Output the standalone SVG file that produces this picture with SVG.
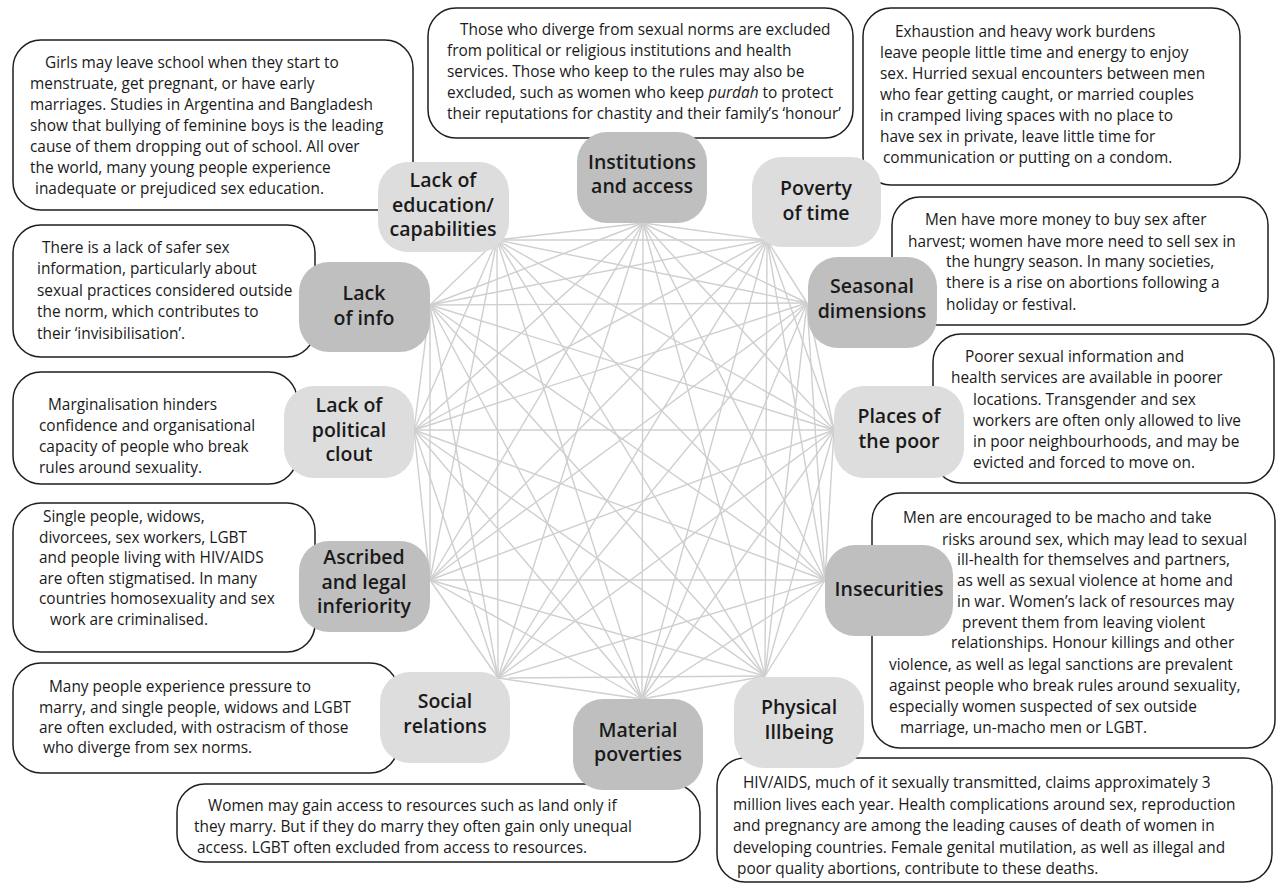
<svg xmlns="http://www.w3.org/2000/svg" width="1281" height="884" viewBox="0 0 1281 884">
<style>
.box{fill:#fff;stroke:#1e1e1e;stroke-width:1.5}
.nd{fill:#bfbfbf}
.nl{fill:#dddddd}
.lbl{font-family:"Open Sans","Liberation Sans",sans-serif;font-weight:600;font-size:19.5px;fill:#1a1a1a;text-anchor:middle}
.t{font-family:"Open Sans","Liberation Sans",sans-serif;font-size:15.4px;fill:#1a1a1a}
#connectors line{stroke:#cfcfcf;stroke-width:1.4}
</style>
<rect width="1281" height="884" fill="#fff"/>

<g id="note-education">
<rect class="box" x="13" y="40" width="400" height="170" rx="28"/>
<text class="t"><tspan x="45" y="68">Girls may leave school when they start to</tspan><tspan x="30" y="89">menstruate, get pregnant, or have early</tspan><tspan x="30" y="110">marriages. Studies in Argentina and Bangladesh</tspan><tspan x="30" y="131">show that bullying of feminine boys is the leading</tspan><tspan x="30" y="152">cause of them dropping out of school. All over</tspan><tspan x="30" y="173">the world, many young people experience</tspan><tspan x="35" y="194">inadequate or prejudiced sex education.</tspan></text>
</g>
<g id="note-institutions">
<rect class="box" x="428" y="8" width="425" height="130" rx="28"/>
<text class="t"><tspan x="460" y="35">Those who diverge from sexual norms are excluded</tspan><tspan x="447" y="56">from political or religious institutions and health</tspan><tspan x="447" y="77">services. Those who keep to the rules may also be</tspan><tspan x="447" y="98">excluded, such as women who keep <tspan font-style="italic">purdah</tspan> to protect</tspan><tspan x="447" y="119">their reputations for chastity and their family’s ‘honour’</tspan></text>
</g>
<g id="note-time">
<rect class="box" x="863" y="8" width="377" height="177" rx="28"/>
<text class="t"><tspan x="895" y="37">Exhaustion and heavy work burdens</tspan><tspan x="880" y="58">leave people little time and energy to enjoy</tspan><tspan x="880" y="79">sex. Hurried sexual encounters between men</tspan><tspan x="880" y="100">who fear getting caught, or married couples</tspan><tspan x="880" y="121">in cramped living spaces with no place to</tspan><tspan x="880" y="142">have sex in private, leave little time for</tspan><tspan x="883" y="163">communication or putting on a condom.</tspan></text>
</g>
<g id="note-info">
<rect class="box" x="13" y="225" width="302" height="132" rx="28"/>
<text class="t"><tspan x="42" y="253">There is a lack of safer sex</tspan><tspan x="37" y="274">information, particularly about</tspan><tspan x="37" y="296">sexual practices considered outside</tspan><tspan x="37" y="317">the norm, which contributes to</tspan><tspan x="37" y="339">their ‘invisibilisation’.</tspan></text>
</g>
<g id="note-seasonal">
<rect class="box" x="892" y="197" width="376" height="128" rx="28"/>
<text class="t"><tspan x="925" y="225">Men have more money to buy sex after</tspan><tspan x="908" y="247">harvest; women have more need to sell sex in</tspan><tspan x="946" y="267">the hungry season. In many societies,</tspan><tspan x="946" y="288">there is a rise on abortions following a</tspan><tspan x="946" y="310">holiday or festival.</tspan></text>
</g>
<g id="note-clout">
<rect class="box" x="13" y="372" width="284" height="112" rx="28"/>
<text class="t"><tspan x="48" y="410">Marginalisation hinders</tspan><tspan x="39" y="431">confidence and organisational</tspan><tspan x="39" y="452">capacity of people who break</tspan><tspan x="39" y="473">rules around sexuality.</tspan></text>
</g>
<g id="note-places">
<rect class="box" x="933" y="334" width="341" height="149" rx="28"/>
<text class="t"><tspan x="965" y="362">Poorer sexual information and</tspan><tspan x="951" y="383">health services are available in poorer</tspan><tspan x="973" y="405">locations. Transgender and sex</tspan><tspan x="973" y="426">workers are often only allowed to live</tspan><tspan x="973" y="447">in poor neighbourhoods, and may be</tspan><tspan x="973" y="468">evicted and forced to move on.</tspan></text>
</g>
<g id="note-ascribed">
<rect class="box" x="13" y="503" width="302" height="149" rx="28"/>
<text class="t"><tspan x="43" y="522">Single people, widows,</tspan><tspan x="39" y="543">divorcees, sex workers, LGBT</tspan><tspan x="39" y="563">and people living with HIV/AIDS</tspan><tspan x="39" y="584">are often stigmatised. In many</tspan><tspan x="39" y="604">countries homosexuality and sex</tspan><tspan x="50" y="625">work are criminalised.</tspan></text>
</g>
<g id="note-insecurities">
<rect class="box" x="872" y="493" width="403" height="255" rx="28"/>
<text class="t"><tspan x="903" y="523">Men are encouraged to be macho and take</tspan><tspan x="942" y="545">risks around sex, which may lead to sexual</tspan><tspan x="957" y="565">ill-health for themselves and partners,</tspan><tspan x="957" y="586">as well as sexual violence at home and</tspan><tspan x="957" y="607">in war. Women’s lack of resources may</tspan><tspan x="962" y="628">prevent them from leaving violent</tspan><tspan x="951" y="648">relationships. Honour killings and other</tspan><tspan x="889" y="670">violence, as well as legal sanctions are prevalent</tspan><tspan x="889" y="691">against people who break rules around sexuality,</tspan><tspan x="889" y="712">especially women suspected of sex outside</tspan><tspan x="900" y="733">marriage, un-macho men or LGBT.</tspan></text>
</g>
<g id="note-social">
<rect class="box" x="13" y="663" width="385" height="110" rx="28"/>
<text class="t"><tspan x="49" y="692">Many people experience pressure to</tspan><tspan x="39" y="713">marry, and single people, widows and LGBT</tspan><tspan x="39" y="733">are often excluded, with ostracism of those</tspan><tspan x="43" y="753">who diverge from sex norms.</tspan></text>
</g>
<g id="note-material">
<rect class="box" x="177" y="784" width="523" height="78" rx="28"/>
<text class="t"><tspan x="208" y="811">Women may gain access to resources such as land only if</tspan><tspan x="194" y="832">they marry. But if they do marry they often gain only unequal</tspan><tspan x="197" y="853">access. LGBT often excluded from access to resources.</tspan></text>
</g>
<g id="note-physical">
<rect class="box" x="717" y="758" width="555" height="124" rx="28"/>
<text class="t"><tspan x="743" y="788">HIV/AIDS, much of it sexually transmitted, claims approximately 3</tspan><tspan x="733" y="810">million lives each year. Health complications around sex, reproduction</tspan><tspan x="733" y="831">and pregnancy are among the leading causes of death of women in</tspan><tspan x="733" y="853">developing countries. Female genital mutilation, as well as illegal and</tspan><tspan x="737" y="874">poor quality abortions, contribute to these deaths.</tspan></text>
</g>

<g id="connectors">
<line x1="643" y1="223" x2="767" y2="240"/><line x1="643" y1="223" x2="807" y2="303"/><line x1="643" y1="223" x2="834" y2="430"/><line x1="643" y1="223" x2="825" y2="580"/><line x1="643" y1="223" x2="765" y2="676"/><line x1="643" y1="223" x2="642" y2="699"/><line x1="643" y1="223" x2="498" y2="678"/><line x1="643" y1="223" x2="430" y2="580"/><line x1="643" y1="223" x2="414" y2="430"/><line x1="643" y1="223" x2="430" y2="305"/><line x1="643" y1="223" x2="497" y2="240"/>
<line x1="767" y1="240" x2="807" y2="303"/><line x1="767" y1="240" x2="834" y2="430"/><line x1="767" y1="240" x2="825" y2="580"/><line x1="767" y1="240" x2="765" y2="676"/><line x1="767" y1="240" x2="642" y2="699"/><line x1="767" y1="240" x2="498" y2="678"/><line x1="767" y1="240" x2="430" y2="580"/><line x1="767" y1="240" x2="414" y2="430"/><line x1="767" y1="240" x2="430" y2="305"/><line x1="767" y1="240" x2="497" y2="240"/>
<line x1="807" y1="303" x2="834" y2="430"/><line x1="807" y1="303" x2="825" y2="580"/><line x1="807" y1="303" x2="765" y2="676"/><line x1="807" y1="303" x2="642" y2="699"/><line x1="807" y1="303" x2="498" y2="678"/><line x1="807" y1="303" x2="430" y2="580"/><line x1="807" y1="303" x2="414" y2="430"/><line x1="807" y1="303" x2="430" y2="305"/><line x1="807" y1="303" x2="497" y2="240"/>
<line x1="834" y1="430" x2="825" y2="580"/><line x1="834" y1="430" x2="765" y2="676"/><line x1="834" y1="430" x2="642" y2="699"/><line x1="834" y1="430" x2="498" y2="678"/><line x1="834" y1="430" x2="430" y2="580"/><line x1="834" y1="430" x2="414" y2="430"/><line x1="834" y1="430" x2="430" y2="305"/><line x1="834" y1="430" x2="497" y2="240"/>
<line x1="825" y1="580" x2="765" y2="676"/><line x1="825" y1="580" x2="642" y2="699"/><line x1="825" y1="580" x2="498" y2="678"/><line x1="825" y1="580" x2="430" y2="580"/><line x1="825" y1="580" x2="414" y2="430"/><line x1="825" y1="580" x2="430" y2="305"/><line x1="825" y1="580" x2="497" y2="240"/>
<line x1="765" y1="676" x2="642" y2="699"/><line x1="765" y1="676" x2="498" y2="678"/><line x1="765" y1="676" x2="430" y2="580"/><line x1="765" y1="676" x2="414" y2="430"/><line x1="765" y1="676" x2="430" y2="305"/><line x1="765" y1="676" x2="497" y2="240"/>
<line x1="642" y1="699" x2="498" y2="678"/><line x1="642" y1="699" x2="430" y2="580"/><line x1="642" y1="699" x2="414" y2="430"/><line x1="642" y1="699" x2="430" y2="305"/><line x1="642" y1="699" x2="497" y2="240"/>
<line x1="498" y1="678" x2="430" y2="580"/><line x1="498" y1="678" x2="414" y2="430"/><line x1="498" y1="678" x2="430" y2="305"/><line x1="498" y1="678" x2="497" y2="240"/>
<line x1="430" y1="580" x2="414" y2="430"/><line x1="430" y1="580" x2="430" y2="305"/><line x1="430" y1="580" x2="497" y2="240"/>
<line x1="414" y1="430" x2="430" y2="305"/><line x1="414" y1="430" x2="497" y2="240"/>
<line x1="430" y1="305" x2="497" y2="240"/>
</g>

<g id="node-institutions"><rect class="nd" x="577" y="132" width="130" height="91" rx="30"/><text class="lbl"><tspan x="642" y="169">Institutions</tspan><tspan x="642" y="193">and access</tspan></text></g>
<g id="node-education"><rect class="nl" x="378" y="162" width="131" height="90" rx="30"/><text class="lbl"><tspan x="443" y="187">Lack of</tspan><tspan x="443" y="212">education/</tspan><tspan x="443" y="236">capabilities</tspan></text></g>
<g id="node-time"><rect class="nl" x="752" y="157" width="129" height="90" rx="30"/><text class="lbl"><tspan x="816" y="195">Poverty</tspan><tspan x="816" y="220">of time</tspan></text></g>
<g id="node-info"><rect class="nd" x="299" y="262" width="131" height="90" rx="30"/><text class="lbl"><tspan x="364" y="300">Lack</tspan><tspan x="364" y="325">of info</tspan></text></g>
<g id="node-seasonal"><rect class="nd" x="808" y="257" width="129" height="91" rx="30"/><text class="lbl"><tspan x="872" y="293">Seasonal</tspan><tspan x="872" y="318">dimensions</tspan></text></g>
<g id="node-clout"><rect class="nl" x="284" y="386" width="130" height="92" rx="30"/><text class="lbl"><tspan x="349" y="412">Lack of</tspan><tspan x="349" y="437">political</tspan><tspan x="349" y="461">clout</tspan></text></g>
<g id="node-places"><rect class="nl" x="834" y="386" width="130" height="92" rx="30"/><text class="lbl"><tspan x="899" y="423">Places of</tspan><tspan x="899" y="448">the poor</tspan></text></g>
<g id="node-ascribed"><rect class="nd" x="299" y="541" width="131" height="91" rx="30"/><text class="lbl"><tspan x="364" y="564">Ascribed</tspan><tspan x="364" y="589">and legal</tspan><tspan x="364" y="613">inferiority</tspan></text></g>
<g id="node-insecurities"><rect class="nd" x="825" y="545" width="128" height="91" rx="30"/><text class="lbl"><tspan x="889" y="596">Insecurities</tspan></text></g>
<g id="node-social"><rect class="nl" x="380" y="672" width="130" height="91" rx="30"/><text class="lbl"><tspan x="445" y="708">Social</tspan><tspan x="445" y="733">relations</tspan></text></g>
<g id="node-material"><rect class="nd" x="573" y="699" width="130" height="91" rx="30"/><text class="lbl"><tspan x="638" y="737">Material</tspan><tspan x="638" y="761">poverties</tspan></text></g>
<g id="node-physical"><rect class="nl" x="734" y="677" width="130" height="91" rx="30"/><text class="lbl"><tspan x="799" y="714">Physical</tspan><tspan x="799" y="739">Illbeing</tspan></text></g>
</svg>
